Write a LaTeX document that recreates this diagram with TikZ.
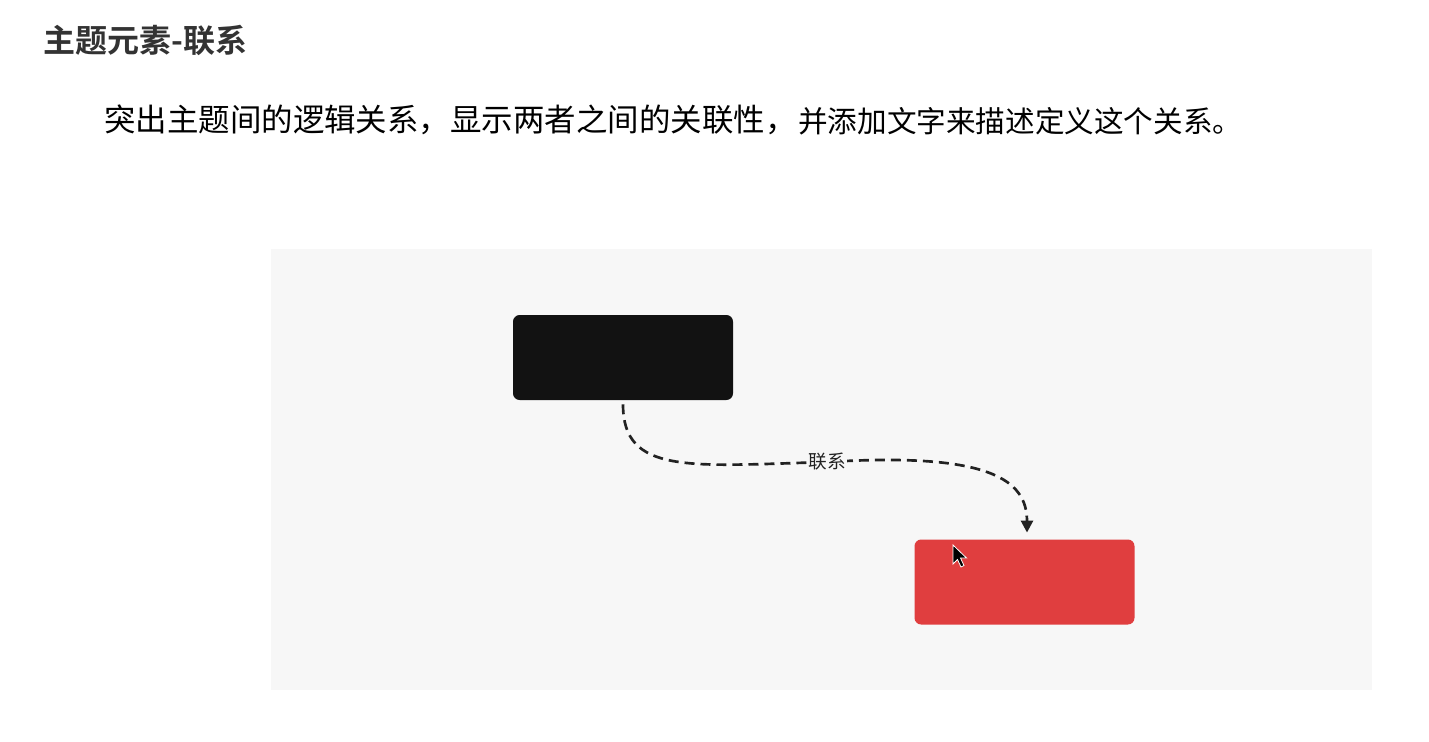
\documentclass[tikz,border=0pt]{standalone}
\usepackage{fontspec}
\newfontfamily\cjk{Noto Sans CJK SC}
\newfontfamily\cjkb{Noto Sans CJK SC Bold}
\usetikzlibrary{arrows.meta}
\definecolor{panelbg}{HTML}{F7F7F7}
\definecolor{boxdark}{HTML}{121212}
\definecolor{boxred}{HTML}{E03E3F}
\definecolor{titlegray}{HTML}{333333}
\definecolor{linegray}{HTML}{222222}
\tikzset{
  topicbox/.style={rectangle, rounded corners=5pt, minimum width=220*0.75pt, minimum height=85*0.75pt, inner sep=0pt},
  relline/.style={draw=linegray, line width=2pt, dash pattern=on 7.5pt off 4.5pt},
  rellabel/.style={fill=panelbg, inner sep=1pt, font=\cjk\fontsize{14}{16}\selectfont, text=linegray},
}
\begin{document}
\begin{tikzpicture}[x=0.75pt,y=-0.75pt]
\useasboundingbox[fill=white] (0,0) rectangle (1429,742);
\node[anchor=west, text=titlegray, font=\cjkb\fontsize{24}{28}\selectfont, inner sep=0pt] (title) at (43,40) {主题元素-联系};
\node[anchor=west, text=black, font=\cjk\fontsize{23.6}{28}\selectfont, inner sep=0pt] (sub1) at (104,120) {突出主题间的逻辑关系，显示两者之间的关联性，};
\node[anchor=west, text=black, font=\cjk\fontsize{22.2}{26}\selectfont, inner sep=0pt] (sub2) at (798,121) {并添加文字来描述定义这个关系。};
\fill[panelbg] (271,249) rectangle (1372,690);
\node[topicbox, fill=boxdark] (a) at (623,357.5) {};
\node[topicbox, fill=boxred] (b) at (1024.5,582) {};
\coordinate (m) at (827,462);
\draw[relline] ([yshift=-3pt]a.south) .. controls (623,475) and (690,466) .. (m);
\draw[relline, -{Triangle[length=9pt,width=9pt]}, shorten >=5pt] (m) .. controls (990,452) and (1027,480) .. (b.north -| 1027,0);
\node[rellabel] (lab) at (m) {联系};
\filldraw[black, draw=white, line width=0.6pt] (953,545) -- (953,564) -- (957.5,559.5) -- (961,567) -- (964,565.5) -- (960.5,558) -- (966.5,558) -- cycle;
\end{tikzpicture}
\end{document}
